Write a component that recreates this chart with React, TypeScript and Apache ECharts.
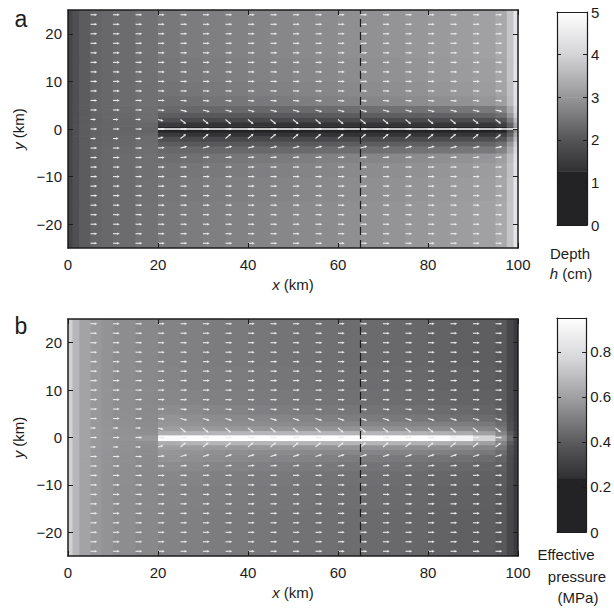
import React, { useEffect, useRef } from "react";
import * as echarts from "echarts";

// ---------- grid of the shaded fields ----------
const xEdges = [0, 1, 2.5, 5, 7.5, 10, 15, 20, 25, 30, 35, 40, 45, 50, 55, 60, 65, 70, 75, 80, 85, 90, 95, 97.5, 99, 100];
const yEdges = [-25, -15, -10, -7, -5, -3.5, -2.5, -1.5, -0.6, 0.6, 1.5, 2.5, 3.5, 5, 7, 10, 15, 25];

// Panel a: depth h (cm), one row per band of distance from the channel
const depthFar = [1.7, 1.9, 2.1, 2.25, 2.3, 2.36, 2.44, 2.54, 2.6, 2.65, 2.69, 2.73, 2.77, 2.81, 2.85, 2.89, 2.93, 2.97, 3.02, 3.07, 3.12, 3.18, 3.3, 3.75, 4.4];
const depthOuter = [1.7, 1.9, 2.1, 2.25, 2.3, 2.36, 2.43, 2.5, 2.55, 2.6, 2.645, 2.685, 2.725, 2.765, 2.805, 2.845, 2.885, 2.925, 2.975, 3.025, 3.075, 3.135, 3.26, 3.72, 4.38];
const depthMid = [1.7, 1.9, 2.1, 2.25, 2.3, 2.36, 2.42, 2.46, 2.51, 2.56, 2.6, 2.64, 2.68, 2.72, 2.76, 2.8, 2.84, 2.88, 2.93, 2.98, 3.03, 3.09, 3.22, 3.68, 4.34];
const depthB5 = [1.7, 1.9, 2.1, 2.25, 2.3, 2.35, 2.41, 2.38, 2.42, 2.47, 2.51, 2.55, 2.59, 2.63, 2.67, 2.71, 2.75, 2.79, 2.84, 2.89, 2.94, 3.0, 3.13, 3.6, 4.28];
const depthB4 = [1.7, 1.9, 2.1, 2.24, 2.29, 2.33, 2.39, 2.3, 2.28, 2.28, 2.29, 2.3, 2.31, 2.33, 2.35, 2.37, 2.39, 2.41, 2.44, 2.47, 2.5, 2.55, 2.7, 3.3, 4.1];
const depthB3 = [1.7, 1.9, 2.1, 2.23, 2.27, 2.3, 2.37, 2.12, 2.06, 2.05, 2.05, 2.06, 2.07, 2.08, 2.09, 2.1, 2.12, 2.14, 2.16, 2.18, 2.2, 2.25, 2.4, 3.0, 3.9];
const depthB2 = [1.7, 1.9, 2.1, 2.22, 2.26, 2.28, 2.35, 1.85, 1.76, 1.74, 1.73, 1.73, 1.73, 1.74, 1.74, 1.75, 1.76, 1.77, 1.78, 1.8, 1.82, 1.86, 2.0, 2.6, 3.6];
const depthB1 = [1.7, 1.9, 2.1, 2.22, 2.25, 2.26, 2.3, 1.45, 1.34, 1.32, 1.31, 1.31, 1.31, 1.31, 1.32, 1.32, 1.33, 1.34, 1.35, 1.36, 1.37, 1.4, 1.55, 2.2, 3.3];
const depthCore = [1.7, 1.9, 2.1, 2.22, 2.24, 2.24, 2.25, 1.2, 1.12, 1.1, 1.1, 1.1, 1.1, 1.1, 1.1, 1.1, 1.1, 1.1, 1.1, 1.1, 1.1, 1.12, 1.25, 1.9, 3.0];
const depthRows = [depthFar, depthOuter, depthMid, depthB5, depthB4, depthB3, depthB2, depthB1, depthCore, depthB1, depthB2, depthB3, depthB4, depthB5, depthMid, depthOuter, depthFar];

// Panel b: effective pressure (MPa)
const presFar = [0.75, 0.67, 0.61, 0.575, 0.56, 0.545, 0.53, 0.515, 0.505, 0.495, 0.488, 0.48, 0.472, 0.465, 0.458, 0.45, 0.444, 0.438, 0.432, 0.42, 0.413, 0.405, 0.39, 0.33, 0.28];
const presOuter = [0.75, 0.67, 0.61, 0.575, 0.56, 0.545, 0.531, 0.52, 0.51, 0.5, 0.493, 0.485, 0.477, 0.47, 0.463, 0.455, 0.449, 0.443, 0.437, 0.425, 0.418, 0.41, 0.394, 0.333, 0.282];
const presMid = [0.75, 0.67, 0.61, 0.575, 0.56, 0.546, 0.533, 0.527, 0.517, 0.507, 0.5, 0.492, 0.484, 0.477, 0.47, 0.462, 0.456, 0.45, 0.444, 0.432, 0.425, 0.416, 0.4, 0.337, 0.284];
const presB5 = [0.75, 0.67, 0.61, 0.575, 0.56, 0.547, 0.535, 0.541, 0.531, 0.521, 0.514, 0.506, 0.498, 0.491, 0.484, 0.476, 0.47, 0.464, 0.458, 0.446, 0.438, 0.428, 0.41, 0.342, 0.287];
const presB4 = [0.75, 0.67, 0.61, 0.576, 0.562, 0.55, 0.538, 0.56, 0.55, 0.542, 0.535, 0.527, 0.52, 0.513, 0.506, 0.498, 0.492, 0.486, 0.48, 0.468, 0.46, 0.448, 0.423, 0.35, 0.29];
const presB3 = [0.75, 0.67, 0.61, 0.577, 0.564, 0.552, 0.54, 0.57, 0.56, 0.553, 0.547, 0.542, 0.537, 0.533, 0.529, 0.525, 0.521, 0.517, 0.513, 0.505, 0.497, 0.485, 0.45, 0.36, 0.295];
const presB2 = [0.75, 0.67, 0.61, 0.578, 0.566, 0.555, 0.545, 0.59, 0.585, 0.58, 0.576, 0.572, 0.569, 0.566, 0.563, 0.56, 0.557, 0.554, 0.55, 0.545, 0.535, 0.52, 0.48, 0.37, 0.3];
const presB1 = [0.75, 0.67, 0.61, 0.578, 0.568, 0.558, 0.55, 0.64, 0.66, 0.665, 0.665, 0.665, 0.665, 0.665, 0.665, 0.665, 0.665, 0.66, 0.655, 0.65, 0.635, 0.6, 0.52, 0.4, 0.31];
const presCore = [0.75, 0.67, 0.61, 0.578, 0.57, 0.56, 0.58, 0.93, 0.95, 0.95, 0.95, 0.95, 0.95, 0.95, 0.95, 0.95, 0.95, 0.95, 0.95, 0.94, 0.9, 0.76, 0.58, 0.44, 0.32];
const presRows = [presFar, presOuter, presMid, presB5, presB4, presB3, presB2, presB1, presCore, presB1, presB2, presB3, presB4, presB5, presMid, presOuter, presFar];

// ---------- colour maps ----------
const grayLevels = [35, 35, 48, 85, 150, 212, 255];
const depthLevels = [0, 1.25, 1.26, 2, 3, 4, 5];
const presLevels = [0, 0.2375, 0.24, 0.38, 0.57, 0.76, 0.95];

// ---------- quiver ----------
const quiverX = [5, 10, 15, 20, 25, 30, 35, 40, 45, 50, 55, 60, 65, 70, 75, 80, 85, 90, 95];
const quiverY = [-24, -22, -20, -18, -16, -14, -12, -10, -8, -6, -4, -2, 0, 2, 4, 6, 8, 10, 12, 14, 16, 18, 20, 22, 24];
const uDefault = 1.5;
const uAt2 = 1.25;
const vAt2 = [0, 0, 0, -0.3, -0.95, -1.0, -1.0, -1.0, -1.0, -1.0, -1.0, -1.0, -1.0, -1.0, -1.0, -1.0, -1.0, -0.95, -0.9];
const vAt4 = [0, 0, 0, -0.1, -0.36, -0.4, -0.4, -0.4, -0.4, -0.4, -0.4, -0.4, -0.4, -0.4, -0.4, -0.4, -0.4, -0.38, -0.35];
const vAt6 = [0, 0, 0, 0, -0.1, -0.12, -0.12, -0.12, -0.12, -0.12, -0.12, -0.12, -0.12, -0.12, -0.12, -0.12, -0.12, -0.11, -0.1];
const vAt8 = [0, 0, 0, 0, -0.03, -0.04, -0.04, -0.04, -0.04, -0.04, -0.04, -0.04, -0.04, -0.04, -0.04, -0.04, -0.04, -0.04, -0.03];

// ---------- lines ----------
const channelA = [[20, 0], [100, 0]];
const divideX = 65;

// ---------- ticks ----------
const xTicks = { min: 0, max: 100, interval: 20 };
const yTicks = [-20, -10, 0, 10, 20];
const depthTicks = { min: 0, max: 5, interval: 1 };
const presTicks = [0, 0.2, 0.4, 0.6, 0.8];

const FONT = "'Liberation Sans', Arial, Helvetica, sans-serif";
const INK = "#1c1c1c";
const FS = 15;

function grayAt(v: number, levels: number[]) {
  if (v <= levels[0]) return grayLevels[0];
  for (let i = 1; i < levels.length; i++) {
    if (v <= levels[i]) {
      const t = (v - levels[i - 1]) / (levels[i] - levels[i - 1] || 1);
      return grayLevels[i - 1] + t * (grayLevels[i] - grayLevels[i - 1]);
    }
  }
  return grayLevels[grayLevels.length - 1];
}
function colorOf(v: number, levels: number[]) {
  const g = Math.round(grayAt(v, levels));
  return `rgb(${g},${g},${Math.min(255, g + 3)})`;
}

function cells(rows: number[][]) {
  const out: number[][] = [];
  rows.forEach((row, r) => {
    row.forEach((val, c) => {
      out.push([xEdges[c], xEdges[c + 1], yEdges[r], yEdges[r + 1], val]);
    });
  });
  return out;
}

function arrows() {
  const out: number[][] = [];
  quiverY.forEach((y) => {
    const a = Math.abs(y);
    const sign = y > 0 ? 1 : -1;
    const tab = a === 2 ? vAt2 : a === 4 ? vAt4 : a === 6 ? vAt6 : a === 8 ? vAt8 : null;
    quiverX.forEach((x, i) => {
      const v = tab ? sign * tab[i] : 0;
      const u = a === 2 ? uAt2 : uDefault;
      out.push([x, y, u, v]);
    });
  });
  return out;
}

const fieldSeries = (idx: number, rows: number[][], levels: number[]) => ({
  type: "custom",
  xAxisIndex: idx,
  yAxisIndex: idx,
  clip: true,
  z: 1,
  silent: true,
  encode: { x: [0, 1], y: [2, 3] },
  data: cells(rows),
  renderItem: (_p: any, api: any) => {
    const a = api.coord([api.value(0), api.value(3)]);
    const b = api.coord([api.value(1), api.value(2)]);
    return {
      type: "rect",
      shape: { x: a[0], y: a[1], width: b[0] - a[0] + 0.7, height: b[1] - a[1] + 0.7 },
      style: { fill: colorOf(api.value(4), levels) },
    };
  },
});

const quiverSeries = (idx: number) => ({
  type: "custom",
  xAxisIndex: idx,
  yAxisIndex: idx,
  clip: true,
  z: 3,
  silent: true,
  encode: { x: 0, y: 1 },
  data: arrows(),
  renderItem: (_p: any, api: any) => {
    const x = api.value(0), y = api.value(1);
    const p0 = api.coord([x, y]);
    const p1 = api.coord([x + api.value(2), y + api.value(3)]);
    const dx = p1[0] - p0[0], dy = p1[1] - p0[1];
    const L = Math.hypot(dx, dy) || 1;
    const ux = dx / L, uy = dy / L;
    const hl = 2.6, hw = 1.3;
    const bx = p1[0] - ux * hl, by = p1[1] - uy * hl;
    const col = "#ececec";
    return {
      type: "group",
      children: [
        { type: "line", shape: { x1: p0[0], y1: p0[1], x2: bx + ux * 0.5, y2: by + uy * 0.5 }, style: { stroke: col, lineWidth: 1.1 } },
        {
          type: "polygon",
          shape: { points: [[p1[0], p1[1]], [bx - uy * hw, by + ux * hw], [bx + uy * hw, by - ux * hw]] },
          style: { fill: col },
        },
      ],
    };
  },
});

const cbarSeries = (idx: number, levels: number[]) => {
  const segs: number[][] = [];
  for (let i = 0; i < levels.length - 1; i++) segs.push([levels[i], levels[i + 1]]);
  return {
    type: "custom",
    xAxisIndex: idx,
    yAxisIndex: idx,
    z: 1,
    silent: true,
    encode: { y: [0, 1] },
    data: segs,
    renderItem: (_p: any, api: any) => {
      const v0 = api.value(0), v1 = api.value(1);
      const a = api.coord([0, v1]);
      const b = api.coord([1, v0]);
      return {
        type: "rect",
        shape: { x: a[0], y: a[1], width: b[0] - a[0], height: b[1] - a[1] + 0.5 },
        style: {
          fill: new echarts.graphic.LinearGradient(0, 0, 0, 1, [
            { offset: 0, color: colorOf(v1, levels) },
            { offset: 1, color: colorOf(v0, levels) },
          ]),
        },
      };
    },
  };
};

const labelStyle = { color: INK, fontSize: FS, fontFamily: FONT };
const lineStyle = { color: INK, width: 1.5 };
const minus = (v: number) => String(v).replace("-", "\u2212");

function mainX(gridIndex: number, top: boolean) {
  return {
    type: "value", gridIndex, ...xTicks, position: top ? "top" : "bottom", z: 10,
    axisLine: { show: true, onZero: false, lineStyle },
    axisTick: { show: true, inside: true, length: 5, lineStyle: { color: INK, width: 1 } },
    axisLabel: { show: !top, margin: 9, ...labelStyle },
    splitLine: { show: false },
    name: top ? "" : "{i|x} (km)",
    nameLocation: "middle",
    nameGap: 29,
    nameTextStyle: { ...labelStyle, rich: { i: { ...labelStyle, fontStyle: "italic" } } },
  };
}
function mainY(gridIndex: number, right: boolean) {
  return {
    type: "value", gridIndex, min: -25, max: 25, position: right ? "right" : "left", z: 10,
    axisLine: { show: true, onZero: false, lineStyle },
    axisTick: { show: true, inside: true, length: 5, customValues: yTicks, lineStyle: { color: INK, width: 1 } },
    axisLabel: { show: !right, customValues: yTicks, margin: 6, formatter: minus, ...labelStyle },
    splitLine: { show: false },
    name: right ? "" : "{i|y} (km)",
    nameLocation: "middle",
    nameGap: 40,
    nameTextStyle: { ...labelStyle, rich: { i: { ...labelStyle, fontStyle: "italic" } } },
  };
}
function cbarX(gridIndex: number, top: boolean) {
  return {
    type: "value", gridIndex, min: 0, max: 1, position: top ? "top" : "bottom", z: 10,
    axisLine: { show: true, onZero: false, lineStyle: { color: INK, width: 1.2 } },
    axisTick: { show: false }, axisLabel: { show: false }, splitLine: { show: false },
  };
}
function cbarY(gridIndex: number, right: boolean, depth: boolean) {
  const base: any = {
    type: "value", gridIndex, position: right ? "right" : "left", z: 10,
    axisLine: { show: true, onZero: false, lineStyle: { color: INK, width: 1.2 } },
    splitLine: { show: false },
  };
  if (depth) {
    Object.assign(base, depthTicks);
    base.axisTick = { show: true, inside: true, length: 4, lineStyle: { color: INK, width: 1 } };
    base.axisLabel = { show: right, margin: 4, ...labelStyle };
  } else {
    base.min = 0;
    base.max = 0.95;
    base.axisTick = { show: true, inside: true, length: 4, customValues: presTicks, lineStyle: { color: INK, width: 1 } };
    base.axisLabel = {
      show: right, margin: 4, customValues: presTicks, ...labelStyle,
      formatter: (v: number) => (v === 0 ? "0" : v.toFixed(1)),
    };
  }
  return base;
}

export default function App() {
  const ref = useRef<HTMLDivElement>(null);
  useEffect(() => {
    document.body.style.margin = "0";
    if (!ref.current) return;
    const chart = echarts.init(ref.current, undefined, { renderer: "svg" });
    const text = (t: string, x: number, y: number, extra: any = {}) => ({
      type: "text", x, y, z: 20,
      style: { text: t, fill: INK, font: `${FS}px ${FONT}`, align: "center", verticalAlign: "middle", ...extra },
    });
    chart.setOption({
      animation: false,
      backgroundColor: "#ffffff",
      grid: [
        { left: 68, top: 10, width: 450, height: 238 },
        { left: 68, top: 319, width: 450, height: 237 },
        { left: 557, top: 12, width: 30, height: 213 },
        { left: 557, top: 318, width: 30, height: 214 },
      ],
      xAxis: [mainX(0, false), mainX(0, true), mainX(1, false), mainX(1, true), cbarX(2, false), cbarX(2, true), cbarX(3, false), cbarX(3, true)],
      yAxis: [mainY(0, false), mainY(0, true), mainY(1, false), mainY(1, true), cbarY(2, true, true), cbarY(2, false, true), cbarY(3, true, false), cbarY(3, false, false)],
      series: [
        { ...fieldSeries(0, depthRows, depthLevels), xAxisIndex: 0, yAxisIndex: 0 },
        { ...quiverSeries(0), xAxisIndex: 0, yAxisIndex: 0 },
        {
          type: "line", xAxisIndex: 0, yAxisIndex: 0, z: 4, symbol: "none", silent: true,
          data: channelA, lineStyle: { color: "#ffffff", width: 1.6 },
        },
        {
          type: "line", xAxisIndex: 0, yAxisIndex: 0, z: 5, symbol: "none", silent: true,
          data: [[divideX, -25], [divideX, 25]], lineStyle: { color: "#1a1a1a", width: 1.2, type: [8, 5] },
        },
        { ...fieldSeries(2, presRows, presLevels), xAxisIndex: 2, yAxisIndex: 2 },
        { ...quiverSeries(2), xAxisIndex: 2, yAxisIndex: 2 },
        {
          type: "line", xAxisIndex: 2, yAxisIndex: 2, z: 5, symbol: "none", silent: true,
          data: [[divideX, -25], [divideX, 25]], lineStyle: { color: "#1a1a1a", width: 1.2, type: [8, 5] },
        },
        { ...cbarSeries(4, depthLevels), xAxisIndex: 4, yAxisIndex: 4 },
        { ...cbarSeries(6, presLevels), xAxisIndex: 6, yAxisIndex: 6 },
      ],
      graphic: [
        text("a", 21, 19, { font: `23px ${FONT}` }),
        text("b", 21, 326, { font: `23px ${FONT}` }),
        text("Depth", 570, 253),
        text("{i|h} (cm)", 571, 273, { rich: { i: { font: `italic ${FS}px ${FONT}`, fill: INK } } }),
        text("Effective", 566, 554),
        text("pressure", 577, 576),
        text("(MPa)", 578, 597),
      ],
    });
    return () => chart.dispose();
  }, []);
  return <div ref={ref} style={{ width: 614, height: 610 }} />;
}
